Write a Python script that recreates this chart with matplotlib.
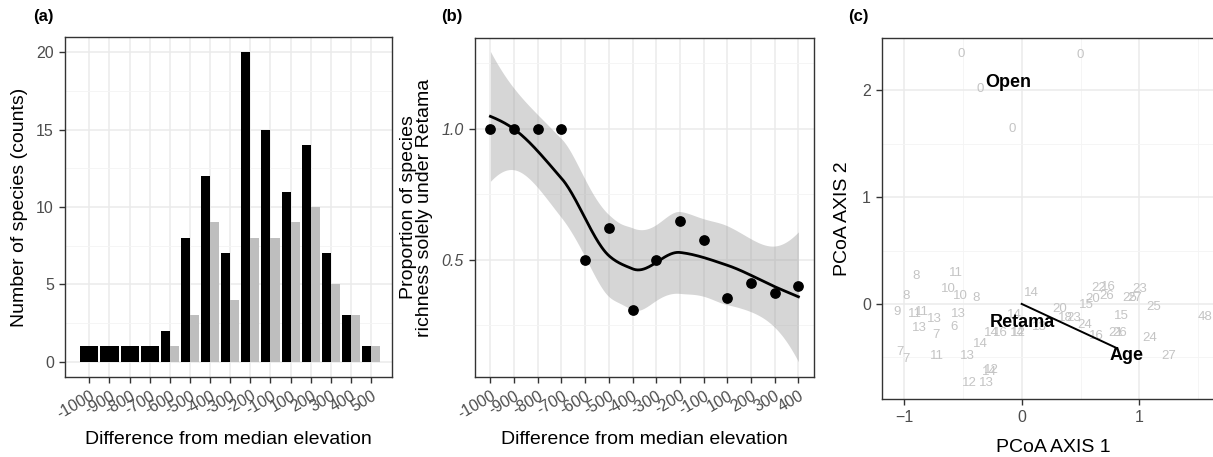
import numpy as np
import matplotlib
matplotlib.use("Agg")
import matplotlib.pyplot as plt

plt.rcParams['font.family'] = ['Liberation Sans', 'DejaVu Sans']

# ---------------- data ----------------
# panel (a)
a_labels = ["-1000", "-900", "-800", "-700", "-600", "-500", "-400", "-300",
            "-200", "-100", "100", "200", "300", "400", "500"]
a_total = [1, 1, 1, 1, 2, 8, 12, 7, 20, 15, 11, 14, 7, 3, 1]
a_retama = [0, 0, 0, 0, 1, 3, 9, 4, 8, 8, 9, 10, 5, 3, 1]

# panel (b)
b_labels = ["-1000", "-900", "-800", "-700", "-600", "-500", "-400", "-300",
            "-200", "-100", "100", "200", "300", "400"]
b_prop = [1.0, 1.0, 1.0, 1.0, 0.5, 0.623, 0.307, 0.5, 0.649, 0.576,
          0.356, 0.41, 0.373, 0.40]

# panel (c)
c_labels = ["0", "0", "0", "0",
            "8", "11", "8", "10", "10", "8", "14",
            "9", "11", "11", "13", "13", "13", "7", "6",
            "7", "7", "11", "13", "14", "12", "13", "12", "14",
            "14", "16", "14", "14", "12", "13",
            "20", "18", "23", "24", "15", "20", "22", "16", "26", "16",
            "23", "25", "27", "25", "15", "21", "26", "24", "27", "48"]
c_x = [-0.51, 0.50, -0.35, -0.08,
       -0.90, -0.56, -0.98, -0.62, -0.52, -0.39, 0.08,
       -1.06, -0.91, -0.85, -0.74, -0.54, -0.87, -0.73, -0.575,
       -1.03, -0.98, -0.72, -0.465, -0.35, -0.44, -0.30, -0.26, -0.27,
       -0.26, -0.18, -0.06, -0.04, -0.03, 0.15,
       0.32, 0.37, 0.44, 0.535, 0.55, 0.605, 0.65, 0.74, 0.72, 0.635,
       1.0, 0.92, 0.96, 1.12, 0.85, 0.80, 0.83, 1.09, 1.25, 1.56]
c_y = [2.34, 2.33, 2.01, 1.64,
       0.26, 0.29, 0.075, 0.14, 0.075, 0.06, 0.10,
       -0.08, -0.09, -0.08, -0.14, -0.09, -0.23, -0.29, -0.22,
       -0.45, -0.52, -0.49, -0.49, -0.375, -0.74, -0.74, -0.62, -0.64,
       -0.275, -0.275, -0.10, -0.275, -0.275, -0.22,
       -0.05, -0.13, -0.13, -0.20, -0.01, 0.045, 0.15, 0.155, 0.075, -0.305,
       0.14, 0.053, 0.053, -0.03, -0.11, -0.27, -0.275, -0.32, -0.49, -0.12]
c_vec_names = ["Open", "Retama", "Age"]
c_vec_x = [-0.11, 0.01, 0.89]
c_vec_y = [2.07, -0.175, -0.48]
c_seg_end = (0.80, -0.41)


# ---------------- loess as in R (span .75, degree 2, kd-tree + Hermite) ----------------
def loess_fit(x, y, xs, span=0.75, cell=0.2):
    x = np.asarray(x, float); y = np.asarray(y, float)
    n = len(x); q = int(np.floor(n * span))
    fc = int(np.floor(n * span * cell))

    def local_rows(x0):
        d = np.abs(x - x0)
        h = np.sort(d)[q - 1]
        w = np.clip(1 - (d / h) ** 3, 0, None) ** 3
        X = np.column_stack([np.ones(n), x - x0, (x - x0) ** 2])
        W = np.diag(w)
        B = np.linalg.solve(X.T @ W @ X, X.T @ W)
        return B[0], B[1]

    xsorted = np.sort(x)
    marg = 0.005 * (xsorted[-1] - xsorted[0])
    verts = {xsorted[0] - marg, xsorted[-1] + marg}

    def split(l, u, lo_b, hi_b):
        if (u - l + 1) <= fc:
            return
        m = (l + u) // 2
        v = xsorted[m]
        if v == lo_b or v == hi_b:
            return
        verts.add(v)
        split(l, m, lo_b, v)
        split(m + 1, u, v, hi_b)

    split(0, n - 1, xsorted[0] - marg, xsorted[-1] + marg)
    V = np.array(sorted(verts))
    rows = [local_rows(v) for v in V]

    def L_at(x0):
        k = np.clip(np.searchsorted(V, x0) - 1, 0, len(V) - 2)
        v0, v1 = V[k], V[k + 1]
        hh = v1 - v0
        t = (x0 - v0) / hh
        h00 = 2 * t**3 - 3 * t**2 + 1
        h10 = t**3 - 2 * t**2 + t
        h01 = -2 * t**3 + 3 * t**2
        h11 = t**3 - t**2
        return (h00 * rows[k][0] + h10 * hh * rows[k][1]
                + h01 * rows[k + 1][0] + h11 * hh * rows[k + 1][1])

    L = np.array([L_at(v) for v in x])
    IL = np.eye(n) - L
    M = IL.T @ IL
    d1 = np.trace(M); d2 = np.trace(M @ M)
    sigma = np.sqrt(np.sum((IL @ y) ** 2) / d1)
    df = d1 ** 2 / d2
    z = 1.959964
    tq = (z + (z**3 + z) / (4 * df) + (5 * z**5 + 16 * z**3 + 3 * z) / (96 * df**2)
          + (3 * z**7 + 19 * z**5 + 17 * z**3 - 15 * z) / (384 * df**3))
    Ls = np.array([L_at(v) for v in xs])
    fit = Ls @ y
    se = sigma * np.sqrt(np.sum(Ls ** 2, axis=1))
    return fit, fit - tq * se, fit + tq * se


# ---------------- style helpers ----------------
TICK_C = "#4d4d4d"
GRID_MAJ = "#ebebeb"
GRID_MIN = "#f4f4f4"


def style(ax):
    for s in ax.spines.values():
        s.set_color("#333333"); s.set_linewidth(1.0)
    ax.tick_params(colors="#333333", labelcolor=TICK_C, labelsize=11.5,
                   length=4.5, width=1.0)
    ax.tick_params(which="minor", length=0)
    ax.set_axisbelow(True)


fig = plt.figure(figsize=(12.13, 4.57), dpi=100)

# ---------------- panel (a) ----------------
axa = fig.add_axes([0.0536, 0.175, 0.2696, 0.744])
style(axa)
xa = np.arange(1, len(a_labels) + 1)
for i, (t_, r_) in enumerate(zip(a_total, a_retama)):
    if r_ > 0:
        axa.bar(xa[i] - 0.225, t_, width=0.45, color="black", zorder=3)
        axa.bar(xa[i] + 0.225, r_, width=0.45, color="#bebebe", zorder=3)
    else:
        axa.bar(xa[i], t_, width=0.9, color="black", zorder=3)
axa.set_xlim(-0.21, 16.04)
axa.set_ylim(-1, 21)
axa.set_xticks(xa)
axa.set_xticklabels(a_labels, rotation=30, ha="right", rotation_mode="anchor")
axa.set_yticks([0, 5, 10, 15, 20])
axa.set_yticks([2.5, 7.5, 12.5, 17.5], minor=True)
axa.grid(True, which="major", color=GRID_MAJ, lw=1.1)
axa.grid(True, which="minor", axis="y", color=GRID_MIN, lw=0.6)
axa.set_xlabel("Difference from median elevation", fontsize=14, labelpad=7)
axa.set_ylabel("Number of species (counts)", fontsize=14, labelpad=6)
fig.text(0.027, 0.955, "(a)", fontsize=12, fontweight="bold")

# ---------------- panel (b) ----------------
axb = fig.add_axes([0.3916, 0.175, 0.2795, 0.7418])
style(axb)
xb = np.arange(1, len(b_labels) + 1)
xs = np.linspace(1, len(b_labels), 300)
fit, lo, hi = loess_fit(xb, b_prop, xs)
axb.fill_between(xs, lo, hi, color="#999999", alpha=0.4, lw=0, zorder=2)
axb.plot(xs, fit, color="black", lw=2.0, zorder=3)
axb.scatter(xb, b_prop, s=45, color="black", zorder=4)
axb.set_xlim(0.35, 14.66)
axb.set_ylim(0.053, 1.347)
axb.set_xticks(xb)
axb.set_xticklabels(b_labels, rotation=30, ha="right", rotation_mode="anchor")
axb.set_yticks([0.5, 1.0])
axb.set_yticklabels(["0.5", "1.0"], style="italic")
axb.set_yticks([0.25, 0.75, 1.25], minor=True)
axb.grid(True, which="major", color=GRID_MAJ, lw=1.1)
axb.grid(True, which="minor", axis="y", color=GRID_MIN, lw=0.6)
axb.set_xlabel("Difference from median elevation", fontsize=14, labelpad=7)
axb.set_ylabel("Proportion of species\nrichness solely under Retama",
               fontsize=14, labelpad=6, linespacing=0.95)
fig.text(0.3635, 0.955, "(b)", fontsize=12, fontweight="bold")

# ---------------- panel (c) ----------------
axc = fig.add_axes([0.7271, 0.127, 0.2829, 0.7898])
style(axc)
axc.spines["right"].set_visible(False)
for lab, x, y in zip(c_labels, c_x, c_y):
    axc.text(x, y, lab, color="#c4c4c4", fontsize=9.5, ha="center",
             va="center", zorder=3)
axc.plot([0, c_seg_end[0]], [0, c_seg_end[1]], color="black", lw=1.4,
         zorder=4)
for lab, x, y in zip(c_vec_names, c_vec_x, c_vec_y):
    axc.text(x, y, lab, color="black", fontsize=13, fontweight="bold",
             ha="center", va="center", zorder=5)
axc.set_xlim(-1.186, 1.624 + 0.01 * 12.13 / 117.8 * 100)
axc.set_ylim(-0.89, 2.49)
axc.set_xticks([-1, 0, 1])
axc.set_yticks([0, 1, 2])
axc.set_xticks([-0.5, 0.5, 1.5], minor=True)
axc.set_yticks([-0.5, 0.5, 1.5], minor=True)
axc.grid(True, which="major", color=GRID_MAJ, lw=1.1)
axc.grid(True, which="minor", color=GRID_MIN, lw=0.6)
axc.set_xlabel("PCoA AXIS 1", fontsize=14, labelpad=10)
axc.set_ylabel("PCoA AXIS 2", fontsize=14, labelpad=8)
fig.text(0.699, 0.955, "(c)", fontsize=12, fontweight="bold")

fig.savefig("out.png", dpi=100)
